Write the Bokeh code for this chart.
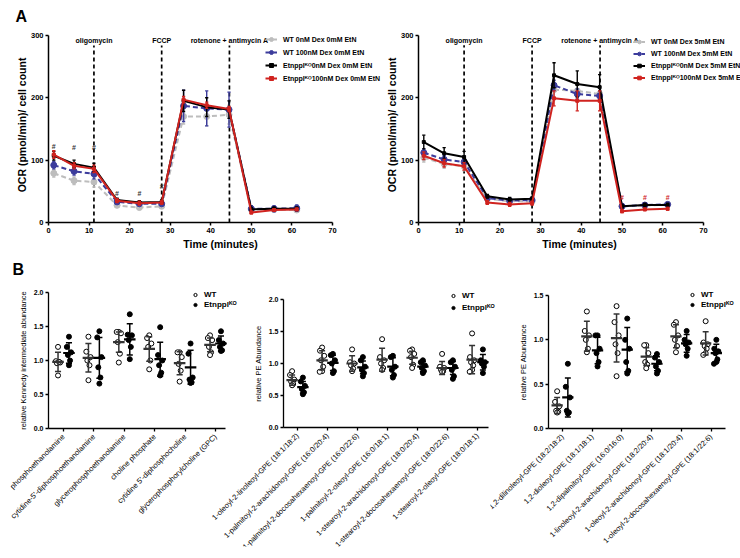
import math
from bokeh.plotting import figure
from bokeh.models import (Range1d, FixedTicker, Legend, LegendItem,
                          PrintfTickFormatter)
from bokeh.layouts import row, column
from bokeh.embed import file_html
from bokeh.resources import INLINE
from bokeh.core.properties import value

FONT = "Liberation Sans"
KO = "Etnppl\u1D37\u1D3C"

# ---------------- Panel A data ----------------
time_min = [1.3, 6.3, 11.2, 16.9, 22.4, 27.9, 33.3, 39.0, 44.5, 50.0, 55.6, 61.2]
injection_x = [11.2, 27.9, 44.6]
injection_labels = ["oligomycin", "FCCP", "rotenone + antimycin A"]

a1_names = ["WT 0nM Dex 0mM EtN", "WT 100nM Dex 0mM EtN",
            KO + "0nM Dex 0mM EtN", KO + "100nM Dex 0mM EtN"]
a1_wt0 = [79, 67, 65, 27.5, 24, 26, 170, 170, 173, 21, 21, 20]
a1_wt0_sd = [6, 6, 8, 3, 3, 3, 12, 15, 15, 3, 3, 3]
a1_wt100 = [92, 82, 78, 33, 30, 30, 187, 183, 181, 22, 22, 23]
a1_wt100_sd = [6, 6, 8, 3, 3, 3, 25, 28, 28, 5, 5, 5]
a1_ko0 = [107, 94, 88, 36, 32, 33, 195, 185, 181, 21, 22, 22]
a1_ko0_sd = [7, 6, 7, 3, 3, 3, 17, 15, 14, 3, 3, 3]
a1_ko100 = [109, 91, 86, 35, 31, 32, 197, 188, 182, 16, 20, 21]
a1_ko100_sd = [6, 5, 6, 3, 3, 3, 5, 5, 4, 2, 2, 2]
a1_hash_x = [1.3, 6.3, 11.2, 16.9, 22.4, 27.9]
a1_hash_y = [122, 121, 121, 46, 46, 57]

a2_names = ["WT 0nM Dex 5mM EtN", "WT 100nM Dex 5mM EtN",
            KO + "0nM Dex 5mM EtN", KO + "100nM Dex 5mM EtN"]
a2_wt0 = [104, 94, 90, 38, 34, 34, 213, 211, 206, 26, 27, 29]
a2_wt0_sd = [7, 7, 7, 3, 3, 3, 12, 10, 10, 4, 4, 4]
a2_wt100 = [112, 101, 97, 39, 35, 36, 220, 206, 203, 26, 28, 29]
a2_wt100_sd = [6, 6, 6, 3, 3, 3, 8, 8, 8, 3, 3, 3]
a2_ko0 = [129, 111, 105, 42, 37, 38, 236, 222, 217, 26, 28, 28]
a2_ko0_sd = [11, 9, 9, 3, 3, 3, 20, 21, 20, 3, 3, 3]
a2_ko100 = [107, 95, 90, 32, 29, 31, 199, 195, 195, 18, 21, 22]
a2_ko100_sd = [6, 6, 6, 3, 3, 3, 12, 16, 16, 2, 2, 2]
a2_hash_x = [50.0, 55.6, 61.2]
a2_hash_y = [40, 40, 40]

SERIES_COLORS = ["#BDBDBD", "#3C3C9C", "#000000", "#D0231F"]
SERIES_DASH = ["5 3", "5 3", "solid", "solid"]
SERIES_MARKER = ["circle", "circle", "square", "square"]
SERIES_SIZE = [6, 6, 3, 3]

# ---------------- Panel B data ----------------
b1_cats = ["phosphoethanolamine", "cytidine-5'-diphosphoethanolamine",
           "glycerophosphoethanolamine", "choline phosphate",
           "cytidine 5'-diphosphocholine", "glycerophosphorylcholine (GPC)"]
b1_wt = [[1.20, 0.99, 0.97, 0.96, 0.98, 0.78],
         [1.35, 1.13, 1.05, 1.00, 0.93, 0.71],
         [1.42, 1.42, 1.40, 1.27, 1.10, 0.97],
         [1.37, 1.33, 1.25, 1.20, 1.00, 0.87],
         [1.12, 1.12, 1.05, 0.95, 0.85, 0.69],
         [1.37, 1.33, 1.30, 1.20, 1.12, 1.08]]
b1_ko = [[1.35, 1.20, 1.12, 1.08, 1.00, 0.93],
         [1.43, 1.34, 1.05, 0.90, 0.75, 0.66],
         [1.68, 1.38, 1.37, 1.30, 1.20, 1.02],
         [1.49, 1.08, 1.00, 0.93, 0.82, 0.78],
         [1.25, 1.10, 0.75, 0.72, 0.68, 0.67],
         [1.43, 1.30, 1.25, 1.20, 1.15, 1.14]]
b1_wt_mean = [0.98, 1.04, 1.27, 1.17, 0.96, 1.23]
b1_wt_sd = [0.14, 0.21, 0.15, 0.18, 0.17, 0.10]
b1_ko_mean = [1.11, 1.04, 1.31, 1.02, 0.90, 1.25]
b1_ko_sd = [0.15, 0.30, 0.23, 0.25, 0.25, 0.11]

b2_cats = ["1-oleoyl-2-linoleoyl-GPE (18:1/18:2)",
           "1-palmitoyl-2-arachidonoyl-GPE (16:0/20:4)",
           "1-palmitoyl-2-docosahexaenoyl-GPE (16:0/22:6)",
           "1-palmitoyl-2-oleoyl-GPE (16:0/18:1)",
           "1-stearoyl-2-arachidonoyl-GPE (18:0/20:4)",
           "1-stearoyl-2-docosahexaenoyl-GPE (18:0/22:6)",
           "1-stearoyl-2-oleoyl-GPE (18:0/18:1)"]
b2_wt = [[0.88, 0.82, 0.75, 0.72, 0.68, 0.66],
         [1.25, 1.20, 1.12, 1.05, 0.95, 0.88, 0.87],
         [1.22, 1.02, 1.00, 0.97, 0.92, 0.88],
         [1.38, 1.10, 1.05, 1.00, 0.93, 0.90],
         [1.22, 1.20, 1.15, 1.10, 0.98, 0.93],
         [1.15, 0.95, 0.93, 0.90, 0.88, 0.87],
         [1.47, 1.10, 1.05, 1.02, 0.97, 0.90, 0.87]]
b2_ko = [[0.78, 0.72, 0.65, 0.60, 0.55, 0.52],
         [1.15, 1.13, 1.05, 1.00, 0.88, 0.85],
         [1.10, 1.05, 0.95, 0.90, 0.85, 0.80],
         [1.12, 1.10, 0.95, 0.90, 0.82, 0.78],
         [1.05, 1.02, 0.97, 0.93, 0.88, 0.85],
         [1.05, 1.02, 0.95, 0.90, 0.80, 0.76],
         [1.22, 1.05, 1.02, 1.00, 0.95, 0.85]]
b2_wt_mean = [0.74, 1.05, 1.00, 1.06, 1.09, 0.93, 1.06]
b2_wt_sd = [0.08, 0.15, 0.12, 0.18, 0.10, 0.10, 0.22]
b2_ko_mean = [0.63, 1.01, 0.94, 0.95, 0.95, 0.93, 1.02]
b2_ko_sd = [0.09, 0.12, 0.10, 0.14, 0.08, 0.10, 0.12]

b3_cats = ["1,2-dilinoleoyl-GPE (18:2/18:2)", "1,2-dioleoyl-GPE (18:1/18:1)",
           "1,2-dipalmitoyl-GPE (16:0/16:0)",
           "1-linoleoyl-2-arachidonoyl-GPE (18:2/20:4)",
           "1-oleoyl-2-arachidonoyl-GPE (18:1/20:4)",
           "1-oleoyl-2-docosahexaenoyl-GPE (18:1/22:6)"]
b3_wt = [[0.42, 0.30, 0.25, 0.20, 0.19, 0.18],
         [1.32, 1.10, 1.05, 1.00, 0.90, 0.86],
         [1.38, 1.20, 1.05, 0.95, 0.85, 0.59],
         [0.94, 0.94, 0.85, 0.75, 0.72, 0.68],
         [1.20, 1.17, 1.05, 1.00, 0.93, 0.86],
         [1.21, 0.97, 0.95, 0.93, 0.90, 0.85, 0.83]]
b3_ko = [[0.73, 0.47, 0.35, 0.20, 0.18, 0.17],
         [1.05, 1.05, 0.90, 0.85, 0.75, 0.70],
         [1.24, 1.00, 0.90, 0.75, 0.65, 0.62],
         [0.84, 0.80, 0.75, 0.70, 0.65, 0.62],
         [1.10, 1.00, 0.97, 0.95, 0.90, 0.82],
         [1.00, 0.90, 0.87, 0.85, 0.78, 0.75, 0.73]]
b3_wt_mean = [0.26, 1.04, 1.02, 0.81, 1.04, 0.96]
b3_wt_sd = [0.09, 0.17, 0.27, 0.10, 0.13, 0.13]
b3_ko_mean = [0.35, 0.88, 0.89, 0.73, 0.96, 0.85]
b3_ko_sd = [0.22, 0.15, 0.25, 0.08, 0.10, 0.10]

JITTER = [0.0, -0.07, 0.07, -0.035, 0.035, 0.0, -0.08]


def base_fig(w, h, bl, br, bt, bb, xr, yr, xb, yb, margin=None):
    kw = {}
    if margin is not None:
        kw["margin"] = margin
    p = figure(width=w, height=h, min_border_left=bl,
               min_border_right=br, min_border_top=bt, min_border_bottom=bb,
               x_range=Range1d(*xr), y_range=Range1d(*yr),
               output_backend="svg", toolbar_location=None, **kw)
    p.outline_line_color = None
    p.background_fill_alpha = 0
    p.border_fill_alpha = 0
    p.grid.visible = False
    p.xaxis.bounds = xb
    p.yaxis.bounds = yb
    for ax in (p.xaxis[0], p.yaxis[0]):
        ax.axis_line_color = "black"
        ax.axis_line_width = 1.5
        ax.major_tick_line_color = "black"
        ax.major_tick_line_width = 1.5
        ax.major_tick_out = 3
        ax.major_tick_in = 0
        ax.minor_tick_line_color = None
        ax.major_label_text_font = FONT
        ax.major_label_text_color = "black"
        ax.axis_label_text_font = FONT
        ax.axis_label_text_color = "black"
        ax.major_label_standoff = 2
        ax.axis_label_standoff = 2
    return p


def set_panel_title(p, text, offset, standoff):
    if text is None:
        p.title_location = None
        return
    p.title.text = text
    p.title.align = "left"
    p.title.offset = offset
    p.title.standoff = standoff
    p.title.text_font = FONT
    p.title.text_font_size = "16px"
    p.title.text_font_style = "bold"
    p.title.text_color = "black"


def panel_a(names, means, sds, hash_x, hash_y, hash_color,
            w, h, bl, br, bt, bb, xr, yr, leg_xy, leg_row,
            panel_label=None, margin=None):
    p = base_fig(w, h, bl, br, bt, bb, xr, yr, (0, 70), (0, 300), margin)
    p.xaxis.ticker = FixedTicker(ticks=[0, 10, 20, 30, 40, 50, 60, 70])
    p.yaxis.ticker = FixedTicker(ticks=[0, 100, 200, 300])
    p.xaxis.axis_label = "Time (minutes)"
    p.yaxis.axis_label = "OCR (pmol/min)/ cell count"
    for ax in (p.xaxis[0], p.yaxis[0]):
        ax.major_label_text_font_size = "7.5px"
        ax.major_label_text_font_style = "bold"
        ax.axis_label_text_font_size = "10.5px"
        ax.axis_label_text_font_style = "bold"
    p.yaxis.axis_label_standoff = 0

    p.segment(x0=injection_x, x1=injection_x, y0=[0] * 3, y1=[284] * 3,
              line_color="black", line_width=1.7, line_dash="4 3")
    p.text(x=injection_x, y=[292] * 3, text=injection_labels,
           text_align="center", text_baseline="middle",
           text_font=value(FONT), text_font_size="7px",
           text_font_style="bold", text_color="black")

    items = []
    cap = 0.4
    for k in range(4):
        m, s, c = means[k], sds[k], SERIES_COLORS[k]
        up = [a + b for a, b in zip(m, s)]
        lo = [a - b for a, b in zip(m, s)]
        p.segment(time_min, lo, time_min, up, line_color=c, line_width=1.4)
        p.segment([t - cap for t in time_min], up, [t + cap for t in time_min], up,
                  line_color=c, line_width=1.4)
        p.segment([t - cap for t in time_min], lo, [t + cap for t in time_min], lo,
                  line_color=c, line_width=1.4)
        ln = p.line(time_min, m, line_color=c, line_width=2, line_dash=SERIES_DASH[k])
        mk = p.scatter(time_min, m, marker=SERIES_MARKER[k], size=SERIES_SIZE[k],
                       fill_color=c, line_color=c)
        items.append(LegendItem(label=names[k], renderers=[ln, mk]))

    p.text(x=hash_x, y=hash_y, text=["#"] * len(hash_x), text_align="center",
           text_baseline="middle", text_font=value(FONT), text_font_size="7px",
           text_font_style="bold", text_color=hash_color)

    leg = Legend(items=items, location=leg_xy, orientation="vertical",
                 background_fill_alpha=0, border_line_alpha=0,
                 label_text_font=FONT, label_text_font_size="7px",
                 label_text_font_style="bold", label_text_color="black",
                 glyph_width=12, glyph_height=leg_row, label_height=leg_row,
                 spacing=3, padding=0, margin=0, label_standoff=6)
    p.add_layout(leg)
    set_panel_title(p, panel_label, -33, 6)
    return p


def panel_b(cats, wt_pts, ko_pts, wt_mean, wt_sd, ko_mean, ko_sd, ylabel,
            yticks, ymax, geo, panel_label=" "):
    # geo: page-pixel geometry of the canvas and of the axes
    cl, ct, w, h = geo["left"], geo["top"], geo["w"], geo["h"]
    bl, bt, bb = geo["bl"], geo["bt"], geo["bb"]
    fl, fr = cl + bl, cl + w
    ft, fb = ct + bt, ct + h - bb
    sp, t0 = geo["sp"], geo["tick0"]
    ppu = (geo["y0"] - geo["ytop"]) / ymax
    xr = ((fl - t0) / sp, (fr - t0) / sp)
    xb = ((geo["axis_x"] - t0) / sp, (geo["axis_end"] - t0) / sp)
    yr = ((geo["y0"] - fb) / ppu, (geo["y0"] - ft) / ppu)
    p = base_fig(w, h, bl, 0, bt, bb, xr, yr, xb, (0, ymax), geo["margin"])
    n = len(cats)

    p.xaxis.fixed_location = 0
    p.yaxis.fixed_location = xb[0]
    p.xaxis.ticker = FixedTicker(ticks=list(range(n)))
    p.xaxis.major_label_overrides = {i: "" for i in range(n)}
    p.xaxis.major_label_text_font_size = "1px"
    p.yaxis.ticker = FixedTicker(ticks=yticks)
    p.yaxis.formatter = PrintfTickFormatter(format="%.1f")
    p.yaxis.major_label_text_font_size = "7px"
    p.yaxis.major_label_text_font_style = "bold"
    p.yaxis.axis_label = ylabel
    p.yaxis.axis_label_text_font_size = "7.5px"
    p.yaxis.axis_label_text_font_style = "normal"
    p.yaxis.axis_label_standoff = 3
    for ax in (p.xaxis[0], p.yaxis[0]):
        ax.axis_line_width = 1.3
        ax.major_tick_line_width = 1.3

    # category names, slanted, under the axis
    p.text(x=list(range(n)), y=[-7 / ppu] * n, text=cats, angle=math.pi / 4,
           text_align="right", text_baseline="middle", text_font=value(FONT),
           text_font_size="7.5px", text_color="black")

    off = 0.18
    renderers = []
    for pts, sign, fill in ((wt_pts, -1, "white"), (ko_pts, 1, "black")):
        xs, ys = [], []
        for i, grp in enumerate(pts):
            for j, v in enumerate(grp):
                xs.append(i + sign * off + JITTER[j % len(JITTER)])
                ys.append(v)
        r = p.scatter(xs, ys, marker="circle", size=5, fill_color=fill,
                      line_color="black", line_width=1)
        renderers.append(r)

    for means, sds, sign, col in ((wt_mean, wt_sd, -1, "#333333"),
                                  (ko_mean, ko_sd, 1, "black")):
        cx = [i + sign * off for i in range(n)]
        up = [m + s for m, s in zip(means, sds)]
        lo = [m - s for m, s in zip(means, sds)]
        p.segment(cx, lo, cx, up, line_color=col, line_width=1.5)
        p.segment([x - 0.1 for x in cx], up, [x + 0.1 for x in cx], up,
                  line_color=col, line_width=1.5)
        p.segment([x - 0.1 for x in cx], lo, [x + 0.1 for x in cx], lo,
                  line_color=col, line_width=1.5)
        p.segment([x - 0.19 for x in cx], means, [x + 0.19 for x in cx], means,
                  line_color=col, line_width=2.2)

    lr = geo["leg_row"]
    leg_h = 2 * lr + 1
    leg = Legend(items=[LegendItem(label="WT", renderers=[renderers[0]]),
                        LegendItem(label=KO, renderers=[renderers[1]])],
                 location=(geo["leg_left"] - fl, fb - (geo["leg_top"] + leg_h)),
                 background_fill_alpha=0, border_line_alpha=0,
                 label_text_font=FONT, label_text_font_size="8px",
                 label_text_font_style="bold", label_text_color="black",
                 glyph_width=8, glyph_height=lr, label_height=lr, spacing=1,
                 padding=0, margin=0, label_standoff=5)
    p.add_layout(leg)
    set_panel_title(p, panel_label, 12 - fl, 20)
    return p


a1 = panel_a(a1_names, [a1_wt0, a1_wt100, a1_ko0, a1_ko100],
             [a1_wt0_sd, a1_wt100_sd, a1_ko0_sd, a1_ko100_sd],
             a1_hash_x, a1_hash_y, "#333333",
             w=392, h=258, bl=48, br=0, bt=25, bb=36,
             xr=(0, 84.8), yr=(0, 312.7), leg_xy=(217, 139), leg_row=10,
             panel_label="A")
a2 = panel_a(a2_names, [a2_wt0, a2_wt100, a2_ko0, a2_ko100],
             [a2_wt0_sd, a2_wt100_sd, a2_ko0_sd, a2_ko100_sd],
             a2_hash_x, a2_hash_y, "#D0231F",
             w=370, h=258, bl=48, br=0, bt=27, bb=33,
             xr=(0, 79.1), yr=(0, 312.6), leg_xy=(215, 140), leg_row=9,
             margin=(0, 0, 0, -22))

geo1 = dict(left=-20, top=247, w=262, h=311, bl=30, bt=40, bb=12,
            margin=(-11, 0, 0, -20), axis_x=48, tick0=63, sp=30.4,
            axis_end=225, y0=428, ytop=292, leg_left=191, leg_top=289.5,
            leg_row=9)
geo2 = dict(left=170, top=247, w=335, h=311, bl=30, bt=40, bb=12,
            margin=(-11, 0, 0, -72), axis_x=283, tick0=297, sp=30.0,
            axis_end=488, y0=427, ytop=299, leg_left=449, leg_top=290,
            leg_row=11)
geo3 = dict(left=460, top=247, w=280, h=311, bl=30, bt=40, bb=12,
            margin=(-11, 0, 0, -45), axis_x=548, tick0=562, sp=29.7,
            axis_end=725, y0=428, ytop=295, leg_left=688, leg_top=290,
            leg_row=9)

b1 = panel_b(b1_cats, b1_wt, b1_ko, b1_wt_mean, b1_wt_sd, b1_ko_mean, b1_ko_sd,
             "relative Kennedy intermediate abundance", [0, 0.5, 1.0, 1.5, 2.0],
             2.0, geo1, panel_label="B")
b2 = panel_b(b2_cats, b2_wt, b2_ko, b2_wt_mean, b2_wt_sd, b2_ko_mean, b2_ko_sd,
             "relative PE Abundance", [0, 0.5, 1.0, 1.5, 2.0], 2.0, geo2)
b3 = panel_b(b3_cats, b3_wt, b3_ko, b3_wt_mean, b3_wt_sd, b3_ko_mean, b3_ko_sd,
             "relative PE Abundance", [0, 0.5, 1.0, 1.5], 1.5, geo3)

layout = column(row(a1, a2), row(b1, b2, b3))
open("out.html", "w").write(file_html(layout, INLINE))
